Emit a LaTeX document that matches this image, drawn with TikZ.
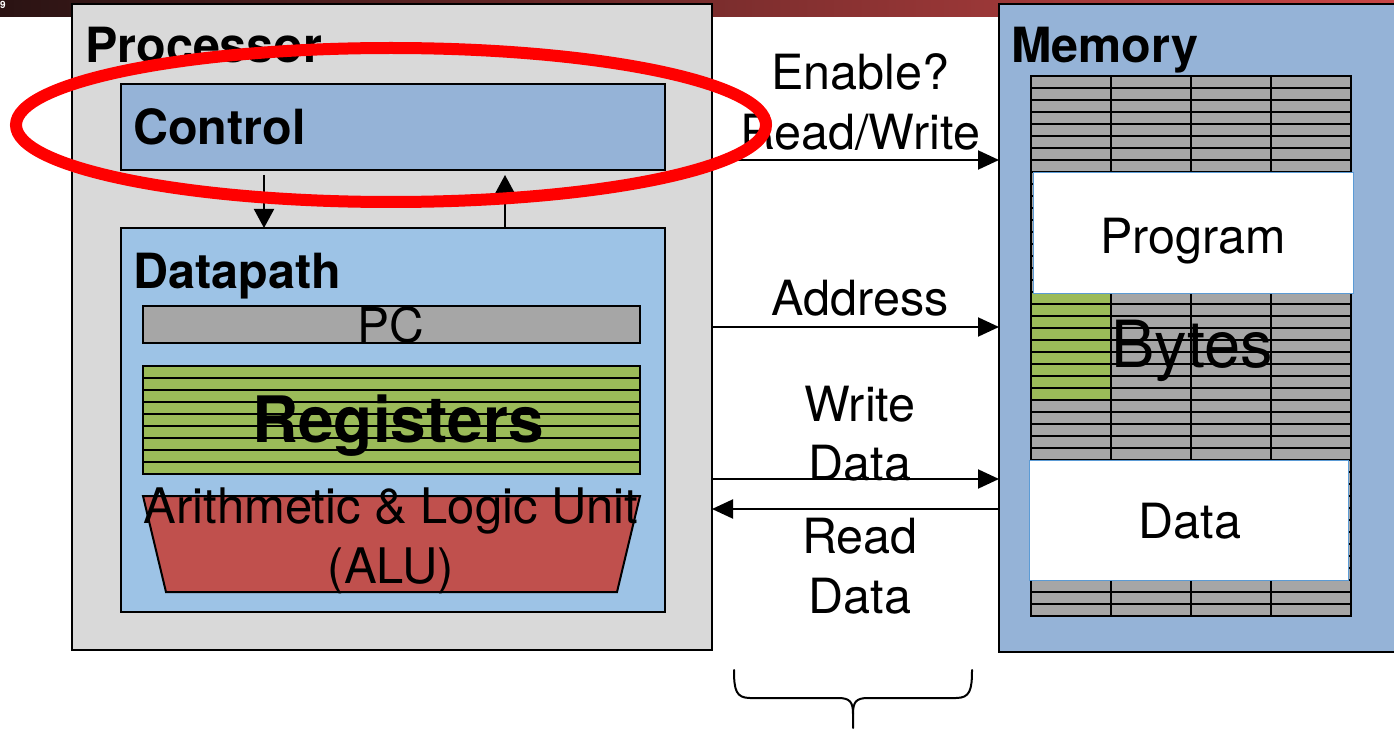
\documentclass[tikz,border=0pt]{standalone}
\usepackage{fontspec}
\setmainfont{TeX Gyre Heros}
\usetikzlibrary{arrows.meta,calc}

\definecolor{hdrdark}{HTML}{2A1313}
\definecolor{hdrmid}{HTML}{7B2C2C}
\definecolor{hdrred}{HTML}{C84646}
\definecolor{procgray}{HTML}{D9D9D9}
\definecolor{ctrlblue}{HTML}{95B3D7}
\definecolor{dpblue}{HTML}{9DC3E6}
\definecolor{regray}{HTML}{A6A6A6}
\definecolor{reggreen}{HTML}{9BBB59}
\definecolor{alured}{HTML}{C0504D}
\definecolor{edgeblue}{HTML}{5B9BD5}

\begin{document}
\begin{tikzpicture}[x=1pt,y=-1pt,
  unitbox/.style={draw=black, line width=2pt, inner sep=0pt, outer sep=0pt, anchor=north west},
  boxtitle/.style={font=\bfseries\fontsize{48.5}{56}\selectfont, anchor=base west, inner sep=0pt},
  lbl/.style={font=\fontsize{48.5}{56}\selectfont, anchor=base, inner sep=0pt},
  cell/.style={fill=regray, draw=black, line width=2pt},
  bus/.style={line width=2pt, -{Triangle[length=21pt,width=19pt]}},
  ctl/.style={line width=2pt, -{Triangle[length=19pt,width=20pt]}},
  region/.style={fill=white, draw=edgeblue, line width=1pt, inner sep=0pt, outer sep=0pt, anchor=north west}]

\clip (0,0) rectangle (1394,730);
\fill[white] (0,0) rectangle (1394,730);

% title bar of the slide
\shade[left color=hdrdark, middle color=hdrmid, right color=hdrred] (0,0) rectangle (1394,17);
\node[anchor=north east, inner sep=0pt, text=white, font=\bfseries\fontsize{10}{10}\selectfont] (slideno) at (6,1) {9};

% processor and memory outlines
\node[unitbox, fill=procgray, minimum width=640, minimum height=646] (proc) at (72,4) {};
\node[unitbox, fill=ctrlblue, line width=2.5pt, minimum width=460, minimum height=648] (mem) at (999,4) {};

% memory byte grid
\foreach \r in {0,...,44}{
  \foreach \c in {0,...,3}{
    \draw[cell] ({1031+80*\c},{76+12*\r}) rectangle ++(80,12);
  }
}
\foreach \r in {18,...,26}{
  \draw[cell, fill=reggreen] (1031,{76+12*\r}) rectangle ++(80,12);
}

% program and data regions
\node[region, minimum width=320, minimum height=120] (prog) at (1033,173) {};
\node[region, minimum width=319, minimum height=120] (data) at (1029,460) {};
\node[lbl] (progtxt) at (1193,253) {Program};
\node[lbl] (datatxt) at (1190,538) {Data};
\node[lbl, font=\fontsize{65}{72}\selectfont] (bytes) at (1192,367) {Bytes};
\node[boxtitle] (memtxt) at (1011,63) {Memory};

% control and datapath
\node[unitbox, fill=ctrlblue, minimum width=544, minimum height=86] (ctrl) at (121,84) {};
\node[unitbox, fill=dpblue, minimum width=544, minimum height=384] (dp) at (121,228) {};
\node[boxtitle] (proctxt) at (85,63) {Processor};
\node[boxtitle] (ctrltxt) at (133,145) {Control};
\node[boxtitle] (dptxt) at (133,288) {Datapath};

\coordinate (xdn) at (264,0);
\coordinate (xup) at (505,0);
\draw[ctl, shorten <=5pt] (ctrl.south -| xdn) -- (dp.north -| xdn);
\draw[ctl, shorten >=5pt] (dp.north -| xup) -- (ctrl.south -| xup);

% program counter
\node[unitbox, fill=regray, minimum width=497, minimum height=37] (pc) at (143,306) {};
\node[lbl, font=\fontsize{48}{54}\selectfont] (pctxt) at (391,342) {PC};

% register file
\node[unitbox, fill=reggreen, minimum width=497, minimum height=108] (regs) at (143,366) {};
\foreach \i in {1,...,8}{
  \draw[line width=2pt] ($(regs.north west)+(0,{12*\i})$) -- ($(regs.north east)+(0,{12*\i})$);
}
\node[lbl, font=\bfseries\fontsize{64}{72}\selectfont] (regtxt) at (398,442) {Registers};

% ALU
\draw[fill=alured, draw=black, line width=2pt] (143,496) -- (640,496) -- (617,592) -- (166,592) -- cycle;
\node[lbl, font=\fontsize{49}{56}\selectfont] (alutxt1) at (391,523) {Arithmetic \& Logic Unit};
\node[lbl, font=\fontsize{49}{56}\selectfont] (alutxt2) at (391,583) {(ALU)};

% buses between processor and memory
\coordinate (yrw) at (0,160);
\coordinate (yad) at (0,327);
\coordinate (ywr) at (0,479);
\coordinate (yrd) at (0,509);
\draw[bus] (proc.east |- yrw) -- (mem.west |- yrw);
\draw[bus] (proc.east |- yad) -- (mem.west |- yad);
\draw[bus] (proc.east |- ywr) -- (mem.west |- ywr);
\draw[bus] (mem.west |- yrd) -- (proc.east |- yrd);

\node[lbl] (enable) at (860,90) {Enable?};
\node[lbl] (rw) at (860,150) {Read/Write};
\node[lbl] (addr) at (860,315) {Address};
\node[lbl] (wr1) at (860,421) {Write};
\node[lbl] (wr2) at (860,480) {Data};
\node[lbl] (rd1) at (860,553) {Read};
\node[lbl] (rd2) at (860,613) {Data};

% brace under the buses
\draw[line width=2pt, line cap=round]
  (734,670) .. controls (734,690) and (736,698) .. (750,698) -- (838,698)
  .. controls (850,698) and (853,702) .. (853,714) -- (853,728);
\draw[line width=2pt, line cap=round]
  (972,670) .. controls (972,690) and (970,698) .. (956,698) -- (868,698)
  .. controls (856,698) and (853,702) .. (853,714);

% highlight ring
\draw[red, line width=12pt] (391,125) ellipse [x radius=375pt, y radius=77pt];
\end{tikzpicture}
\end{document}
